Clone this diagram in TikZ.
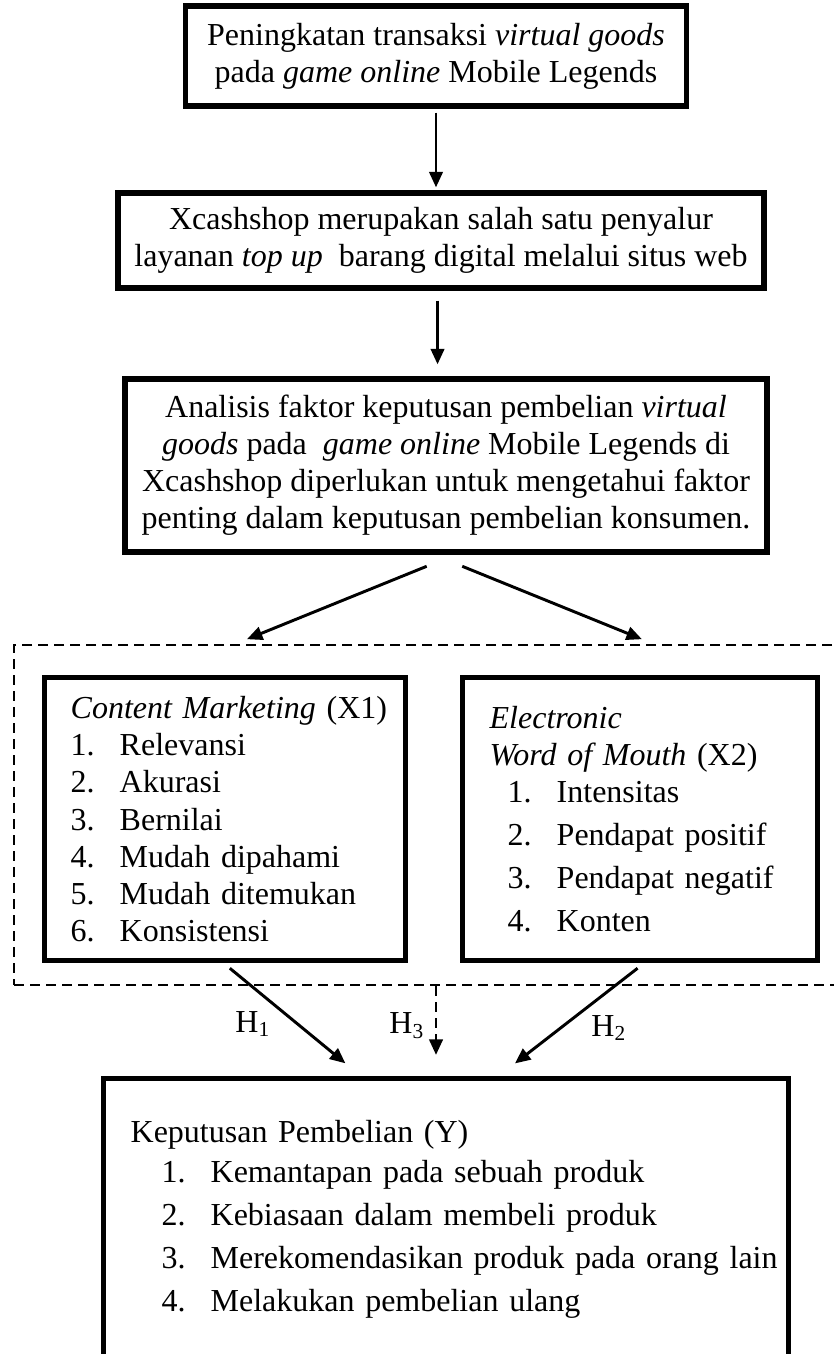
\documentclass[tikz,border=0pt]{standalone}
\usepackage{fontspec}
\setmainfont{Liberation Serif}
\usetikzlibrary{arrows.meta,fit,positioning}
\newcommand{\px}{0.375pt}
\newcommand{\itm}[2]{\makebox[18.4pt][l]{#1}\mbox{#2}}
\tikzset{
  box/.style={draw, line width=2pt, line join=miter, align=center, inner sep=0pt, font=\fontsize{12}{13.9}\selectfont},
  listbox/.style={box, align=left, anchor=north west},
  arr/.style={-{Triangle[length=5.8pt,width=5pt]}, line width=1.1pt},
  grp/.style={draw, dash pattern=on 3.75pt off 2.25pt, line width=0.75pt, inner sep=0pt},
  hlab/.style={font=\fontsize{12}{13.9}\selectfont, inner sep=0pt}
}
\begin{document}
\begin{tikzpicture}[x=\px, y=-\px]
  \useasboundingbox (0,0) rectangle (833,1354);
  \node[box, minimum width=501*\px, minimum height=100*\px] (awal) at (436,56) {Peningkatan transaksi \textit{virtual goods}\\ pada \textit{game online} Mobile Legends};
  \node[box, minimum width=646*\px, minimum height=95*\px] (xcash) at (441,240.5) {Xcashshop merupakan salah satu penyalur\\ layanan \textit{top up}~ barang digital melalui situs web};
  \node[box, minimum width=642*\px, minimum height=173*\px] (analisis) at (446,465.5) {Analisis faktor keputusan pembelian \textit{virtual}\\ \textit{goods} pada~ \textit{game online} Mobile Legends di\\ Xcashshop diperlukan untuk mengetahui faktor\\ penting dalam keputusan pembelian konsumen.};
  % variabel X1 dan X2
  \node[listbox, minimum height=283*\px, text width=309*\px, inner xsep=26*\px] (cm) at (42,675) {\mbox{\textit{Content Marketing} (X1)}\\ \itm{1.}{Relevansi}\\ \itm{2.}{Akurasi}\\ \itm{3.}{Bernilai}\\ \itm{4.}{Mudah dipahami}\\ \itm{5.}{Mudah ditemukan}\\ \itm{6.}{Konsistensi}};
  \node[listbox, minimum height=283*\px, text width=301*\px, inner xsep=27*\px] (ewom) at (460,675) {\textit{Electronic}\\ \mbox{\textit{Word of Mouth} (X2)}\\ \hspace*{6.75pt}\itm{1.}{Intensitas}\\[2.2pt] \hspace*{6.75pt}\itm{2.}{Pendapat positif}\\[2.2pt] \hspace*{6.75pt}\itm{3.}{Pendapat negatif}\\[2.2pt] \hspace*{6.75pt}\itm{4.}{Konten}};
  \coordinate (gnw) at (14,645);
  \coordinate (gse) at (845,985);
  \node[grp, fit=(gnw) (gse)] (grp) {};
  % variabel Y
  \node[listbox, text width=631*\px, inner xsep=27*\px, inner ysep=15.7pt] (kp) at (101,1076) {Keputusan Pembelian (Y)\\[1.1pt] \hspace*{11.6pt}\itm{1.}{Kemantapan pada sebuah produk}\\[2.2pt] \hspace*{11.6pt}\itm{2.}{Kebiasaan dalam membeli produk}\\[2.2pt] \hspace*{11.6pt}\itm{3.}{Merekomendasikan produk pada orang lain}\\[2.2pt] \hspace*{11.6pt}\itm{4.}{Melakukan pembelian ulang}\\[60pt] \mbox{}};
  % panah
  \draw[arr, shorten <=1.5pt, shorten >=1.1pt] (awal.south) -- (awal.south |- xcash.north);
  \draw[arr, shorten <=3.75pt, shorten >=4.5pt] ([xshift=-1.3pt]xcash.south) -- ([xshift=-1.3pt]xcash.south |- analisis.north);
  \draw[arr, shorten <=11.6pt, shorten >=4.8pt] ([xshift=3.5pt]analisis.south) -- ([xshift=-72.9pt]grp.north);
  \draw[arr, shorten <=11.6pt, shorten >=4.8pt] ([xshift=-4.65pt]analisis.south) -- ([xshift=84.1pt]grp.north);
  \draw[arr, shorten <=2.9pt, shorten >=7.5pt] ([xshift=-0.49pt]cm.south) -- ([xshift=-32pt]kp.north);
  \draw[arr, shorten <=3pt, shorten >=7.7pt] ([xshift=1.4pt]ewom.south) -- ([xshift=19.7pt]kp.north);
  \draw[arr, dash pattern=on 3.75pt off 2.25pt, shorten >=7.9pt] ([xshift=2.44pt]grp.south) -- ([xshift=2.44pt]grp.south |- kp.north);
  \node[hlab] (h1) at (253,1024) {H\textsubscript{1}};
  \node[hlab] (h3) at (407,1026) {H\textsubscript{3}};
  \node[hlab] (h2) at (609,1028) {H\textsubscript{2}};
\end{tikzpicture}
\end{document}
